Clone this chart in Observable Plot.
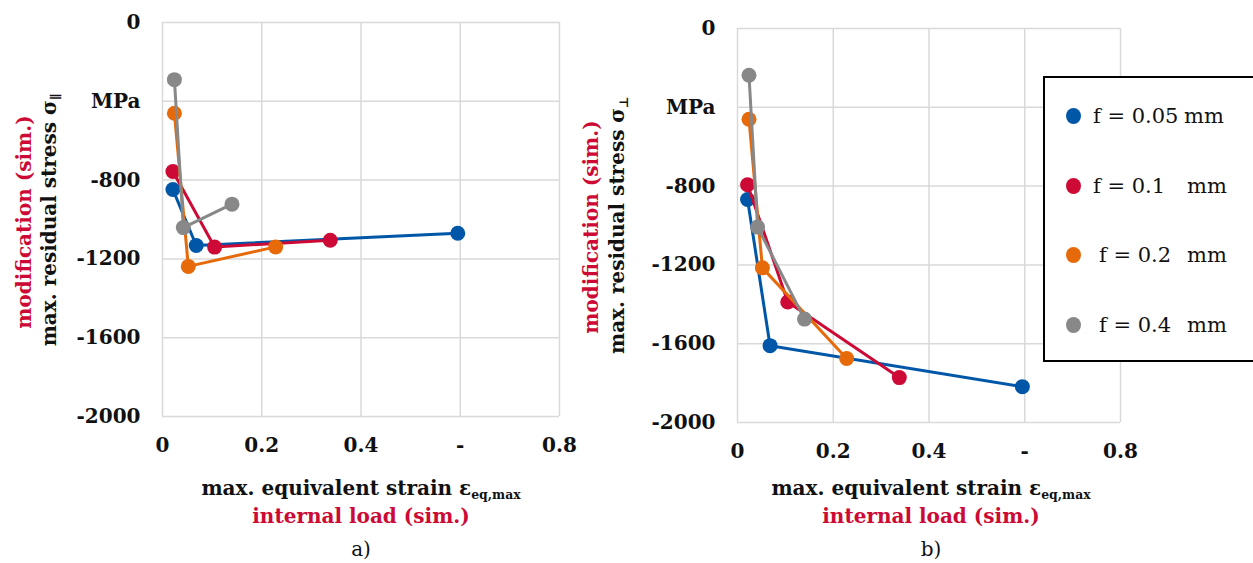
<!DOCTYPE html>
<html>
<head>
<meta charset="utf-8">
<script src="https://cdn.jsdelivr.net/npm/d3@7"></script>
<script src="https://cdn.jsdelivr.net/npm/@observablehq/plot@0.6"></script>
<style>
  body { margin: 0; background: #fff; }
  #root { position: relative; width: 1253px; height: 563px; overflow: hidden; font-family: "DejaVu Serif", serif; color: #111; }
  .t { position: absolute; white-space: nowrap; line-height: 1; }
  .b { font-weight: bold; }
  .red { color: #cc0a35; }
  .rot { transform: translate(-50%, -50%) rotate(-90deg); }
  .ctr { transform: translate(-50%, -50%); }
  sub { font-size: 0.62em; vertical-align: -0.35em; }
  #legend { position: absolute; left: 1043px; top: 76px; width: 240px; height: 286px; border: 2.5px solid #000; background: #fff; box-sizing: border-box; z-index: 5; }
  .sw { position: absolute; width: 15px; height: 16px; border-radius: 50%; }
  .lt { position: absolute; font-size: 21px; white-space: nowrap; line-height: 1; transform: translateY(-50%); }
</style>
</head>
<body>
<div id="root"></div>
<script>
// ---- data ----
const seriesNames = ["f = 0.05", "f = 0.1", "f = 0.2", "f = 0.4"];
const seriesUnit = "mm";
const seriesColors = ["#0057a8", "#cc0a35", "#e66a0a", "#888888"];

// max. equivalent strain (x), shared by both panels
const strain005 = [0.021, 0.068, 0.595];
const strain010 = [0.021, 0.105, 0.338];
const strain020 = [0.024, 0.052, 0.228];
const strain040 = [0.024, 0.042, 0.140];

// panel a) residual stress parallel (MPa)
const stressParA005 = [-848, -1132, -1070];
const stressParA010 = [-756, -1140, -1105];
const stressParA020 = [-461, -1238, -1139];
const stressParA040 = [-290, -1041, -922];

// panel b) residual stress perpendicular (MPa)
const stressPerpB005 = [-868, -1610, -1818];
const stressPerpB010 = [-793, -1388, -1772];
const stressPerpB020 = [-461, -1215, -1675];
const stressPerpB040 = [-237, -1008, -1475];

// ticks
const xTicks = [0, 0.2, 0.4, 0.6, 0.8];
const xTickLabels = ["0", "0.2", "0.4", "-", "0.8"];
const yTicks = [0, -400, -800, -1200, -1600, -2000];
const yTickLabels = ["0", "MPa", "-800", "-1200", "-1600", "-2000"];

// ---- build ----
const strains = [strain005, strain010, strain020, strain040];
const panelA = [stressParA005, stressParA010, stressParA020, stressParA040];
const panelB = [stressPerpB005, stressPerpB010, stressPerpB020, stressPerpB040];

const xLab = new Map(xTicks.map((d, i) => [d, xTickLabels[i]]));
const yLab = new Map(yTicks.map((d, i) => [d, yTickLabels[i]]));

function rows(ys) {
  return ys.map((yy, s) => yy.map((v, i) => ({ s, x: strains[s][i], y: v })));
}

function panel(ys, opts) {
  const data = rows(ys);
  const marks = [
    Plot.gridX(xTicks, { stroke: "#d9d9d9", strokeOpacity: 1, strokeWidth: 1.5 }),
    Plot.gridY(yTicks, { stroke: "#d9d9d9", strokeOpacity: 1, strokeWidth: 1.5 }),
    Plot.axisX(xTicks, { tickSize: 0, tickPadding: 21, tickFormat: d => xLab.get(d), fontSize: 20, fontWeight: "bold", fill: "#111" }),
    Plot.axisY(yTicks, { tickSize: 0, tickPadding: 22, tickFormat: d => yLab.get(d), fontSize: 20, fontWeight: "bold", fill: "#111" })
  ];
  data.forEach((d, s) => {
    marks.push(Plot.line(d, { x: "x", y: "y", stroke: seriesColors[s], strokeWidth: 3 }));
    marks.push(Plot.dot(d, { x: "x", y: "y", r: 7.5, fill: seriesColors[s], stroke: "none" }));
  });
  return Plot.plot({
    width: opts.width, height: 563,
    marginLeft: opts.ml, marginRight: opts.mr, marginTop: opts.mt, marginBottom: opts.mb,
    x: { domain: [0, 0.8], label: null },
    y: { domain: [-2000, 0], label: null },
    style: { fontFamily: "DejaVu Serif", fontSize: "20px", background: "transparent", overflow: "visible" },
    marks
  });
}

const root = document.getElementById("root");

const svgA = panel(panelA, { width: 600, ml: 162, mr: 41, mt: 22, mb: 147 });
svgA.style.position = "absolute"; svgA.style.left = "0px"; svgA.style.top = "0px";
root.appendChild(svgA);

const svgB = panel(panelB, { width: 560, ml: 137, mr: 40, mt: 28, mb: 141 });
svgB.style.position = "absolute"; svgB.style.left = "600px"; svgB.style.top = "0px";
root.appendChild(svgB);

function addText(html, cls, x, y, size) {
  const el = document.createElement("div");
  el.className = "t " + cls;
  el.innerHTML = html;
  el.style.left = x + "px";
  el.style.top = y + "px";
  el.style.fontSize = size + "px";
  root.appendChild(el);
}

// panel a titles
addText("max. residual stress σ<sub>∥</sub>", "b rot", 51, 220, 20);
addText("modification (sim.)", "b red rot", 24, 222, 20);
addText("max. equivalent strain ε<sub>eq,max</sub>", "b ctr", 361, 490, 20);
addText("internal load (sim.)", "b red ctr", 361, 516, 20);
addText("a)", "ctr", 361, 549, 20);

// panel b titles
addText("max. residual stress σ<sub>⊥</sub>", "b rot", 619, 225, 20);
addText("modification (sim.)", "b red rot", 591, 227, 20);
addText("max. equivalent strain ε<sub>eq,max</sub>", "b ctr", 931, 490, 20);
addText("internal load (sim.)", "b red ctr", 931, 516, 20);
addText("b)", "ctr", 931, 549, 20);

// legend
const legend = document.createElement("div");
legend.id = "legend";
const rowY = [38, 108, 177, 247];
const textX = [48, 48, 54, 54];
seriesNames.forEach((name, i) => {
  const sw = document.createElement("div");
  sw.className = "sw";
  sw.style.background = seriesColors[i];
  sw.style.left = "21px";
  sw.style.top = (rowY[i] - 8) + "px";
  legend.appendChild(sw);
  const tx = document.createElement("div");
  tx.className = "lt";
  tx.textContent = name;
  tx.style.left = textX[i] + "px";
  tx.style.top = rowY[i] + "px";
  legend.appendChild(tx);
  const un = document.createElement("div");
  un.className = "lt";
  un.textContent = seriesUnit;
  un.style.left = (i === 0 ? 139 : 142) + "px";
  un.style.top = rowY[i] + "px";
  legend.appendChild(un);
});
root.appendChild(legend);
</script>
</body>
</html>
